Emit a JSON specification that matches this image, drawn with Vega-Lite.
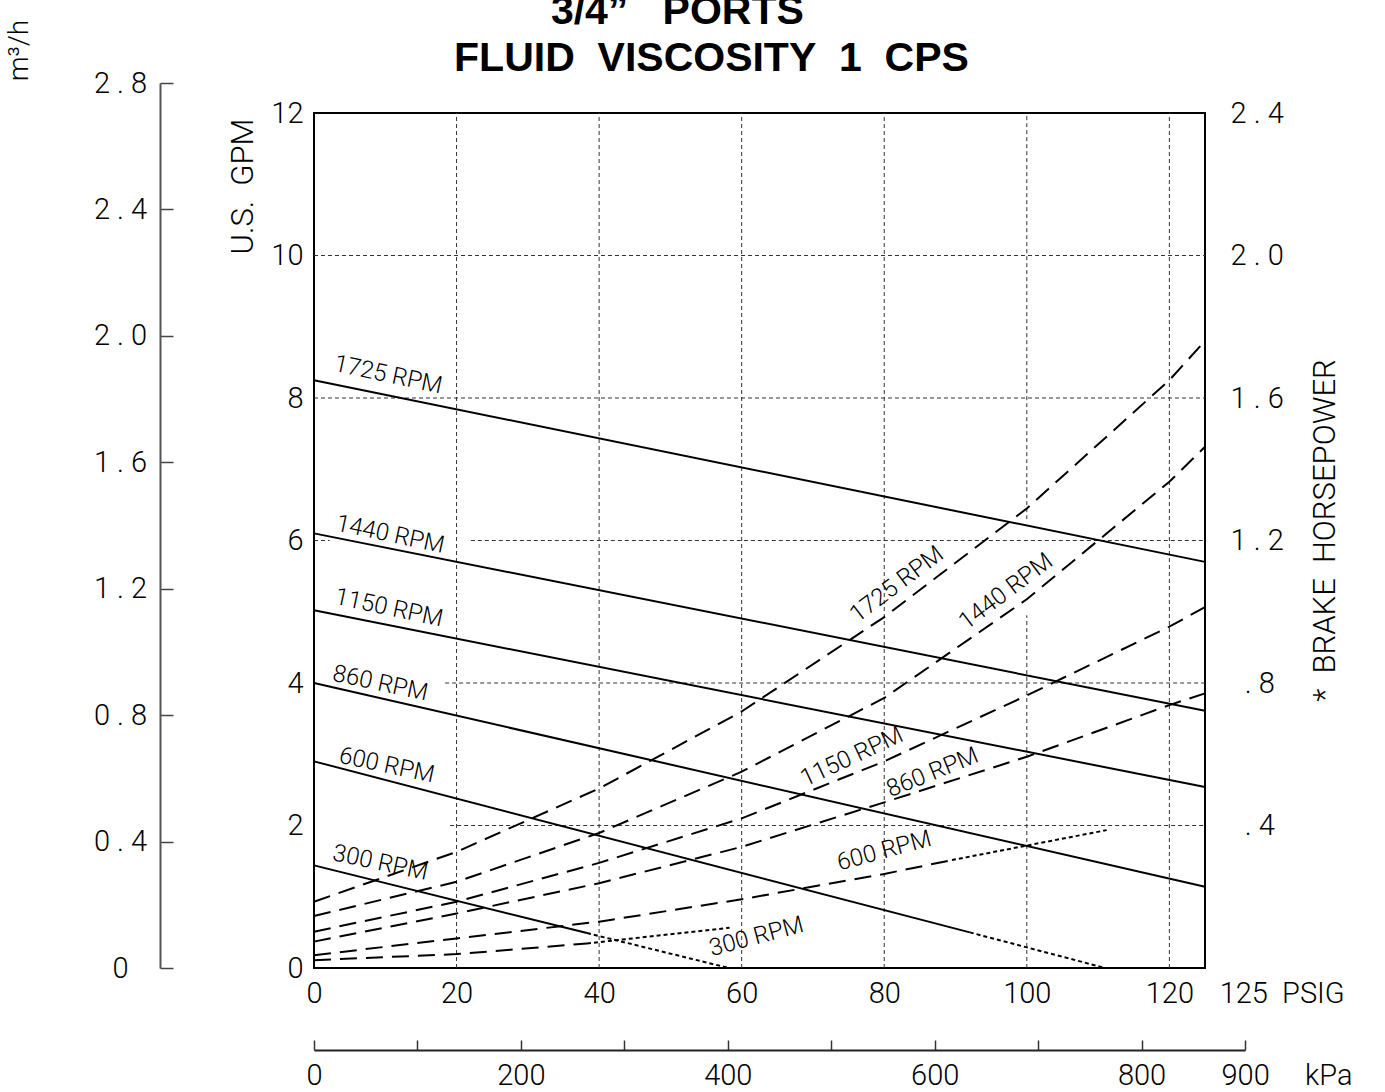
{
  "$schema": "https://vega.github.io/schema/vega-lite/v6.json",
  "width": 891,
  "height": 855,
  "autosize": {"type": "none"},
  "padding": {"left": 314, "top": 113, "right": 180, "bottom": 124},
  "background": "white",
  "title": {
    "text": ["3/4\u201d\u00a0\u00a0\u00a0PORTS\u00a0\u00a0\u00a0\u00a0\u00a0\u00a0\u200d", "FLUID\u00a0\u00a0VISCOSITY\u00a0\u00a01\u00a0\u00a0CPS"],
    "font": "Liberation Sans",
    "fontSize": 41,
    "fontWeight": "bold",
    "color": "black",
    "anchor": "middle",
    "frame": "group",
    "dx": -48,
    "offset": -61,
    "lineHeight": 47
  },
  "config": {
    "view": {"stroke": "#000", "strokeWidth": 2},
    "font": "Roboto",
    "axis": {
      "labelFont": "Roboto",
      "labelFontWeight": 300,
      "labelFontSize": 29,
      "labelColor": "#000",
      "titleFont": "Roboto",
      "titleFontWeight": 300,
      "titleFontSize": 28,
      "titleColor": "#000",
      "grid": false,
      "labelFlush": false,
      "labelOverlap": false,
      "labelBound": false,
      "domainColor": "#444",
      "tickColor": "#444"
    },
    "text": {"font": "Roboto", "fontWeight": 300, "fontSize": 24, "color": "#000"}
  },
  "datasets": {
    "curves": [
      {"rpm": 1725, "measure": "flow", "part": "main", "psi": 0, "value": 8.25},
      {"rpm": 1725, "measure": "flow", "part": "main", "psi": 125, "value": 5.70},
      {"rpm": 1440, "measure": "flow", "part": "main", "psi": 0, "value": 6.10},
      {"rpm": 1440, "measure": "flow", "part": "main", "psi": 125, "value": 3.61},
      {"rpm": 1150, "measure": "flow", "part": "main", "psi": 0, "value": 5.02},
      {"rpm": 1150, "measure": "flow", "part": "main", "psi": 125, "value": 2.54},
      {"rpm": 860, "measure": "flow", "part": "main", "psi": 0, "value": 4.00},
      {"rpm": 860, "measure": "flow", "part": "main", "psi": 125, "value": 1.14},
      {"rpm": 600, "measure": "flow", "part": "main", "psi": 0, "value": 2.90},
      {"rpm": 600, "measure": "flow", "part": "main", "psi": 92, "value": 0.50},
      {"rpm": 300, "measure": "flow", "part": "main", "psi": 0, "value": 1.44},
      {"rpm": 300, "measure": "flow", "part": "main", "psi": 38.3, "value": 0.49},
      {"rpm": 600, "measure": "flow", "part": "ext", "psi": 92, "value": 0.50},
      {"rpm": 600, "measure": "flow", "part": "ext", "psi": 111, "value": 0.0},
      {"rpm": 300, "measure": "flow", "part": "ext", "psi": 38.3, "value": 0.49},
      {"rpm": 300, "measure": "flow", "part": "ext", "psi": 58.2, "value": 0.0},
      {"rpm": 1725, "measure": "bhp", "part": "main", "psi": 0, "value": 0.186},
      {"rpm": 1725, "measure": "bhp", "part": "main", "psi": 20, "value": 0.326},
      {"rpm": 1725, "measure": "bhp", "part": "main", "psi": 40, "value": 0.504},
      {"rpm": 1725, "measure": "bhp", "part": "main", "psi": 60, "value": 0.72},
      {"rpm": 1725, "measure": "bhp", "part": "main", "psi": 80, "value": 0.985},
      {"rpm": 1725, "measure": "bhp", "part": "main", "psi": 100, "value": 1.29},
      {"rpm": 1725, "measure": "bhp", "part": "main", "psi": 120, "value": 1.65},
      {"rpm": 1725, "measure": "bhp", "part": "main", "psi": 125, "value": 1.76},
      {"rpm": 1440, "measure": "bhp", "part": "main", "psi": 0, "value": 0.146},
      {"rpm": 1440, "measure": "bhp", "part": "main", "psi": 20, "value": 0.242},
      {"rpm": 1440, "measure": "bhp", "part": "main", "psi": 40, "value": 0.379},
      {"rpm": 1440, "measure": "bhp", "part": "main", "psi": 60, "value": 0.551},
      {"rpm": 1440, "measure": "bhp", "part": "main", "psi": 80, "value": 0.758},
      {"rpm": 1440, "measure": "bhp", "part": "main", "psi": 100, "value": 1.035},
      {"rpm": 1440, "measure": "bhp", "part": "main", "psi": 120, "value": 1.365},
      {"rpm": 1440, "measure": "bhp", "part": "main", "psi": 125, "value": 1.463},
      {"rpm": 1150, "measure": "bhp", "part": "main", "psi": 0, "value": 0.102},
      {"rpm": 1150, "measure": "bhp", "part": "main", "psi": 20, "value": 0.186},
      {"rpm": 1150, "measure": "bhp", "part": "main", "psi": 40, "value": 0.295},
      {"rpm": 1150, "measure": "bhp", "part": "main", "psi": 60, "value": 0.42},
      {"rpm": 1150, "measure": "bhp", "part": "main", "psi": 80, "value": 0.58},
      {"rpm": 1150, "measure": "bhp", "part": "main", "psi": 100, "value": 0.765},
      {"rpm": 1150, "measure": "bhp", "part": "main", "psi": 120, "value": 0.958},
      {"rpm": 1150, "measure": "bhp", "part": "main", "psi": 125, "value": 1.013},
      {"rpm": 860, "measure": "bhp", "part": "main", "psi": 0, "value": 0.074},
      {"rpm": 860, "measure": "bhp", "part": "main", "psi": 20, "value": 0.153},
      {"rpm": 860, "measure": "bhp", "part": "main", "psi": 40, "value": 0.238},
      {"rpm": 860, "measure": "bhp", "part": "main", "psi": 60, "value": 0.34},
      {"rpm": 860, "measure": "bhp", "part": "main", "psi": 80, "value": 0.465},
      {"rpm": 860, "measure": "bhp", "part": "main", "psi": 100, "value": 0.593},
      {"rpm": 860, "measure": "bhp", "part": "main", "psi": 120, "value": 0.738},
      {"rpm": 860, "measure": "bhp", "part": "main", "psi": 125, "value": 0.771},
      {"rpm": 600, "measure": "bhp", "part": "main", "psi": 0, "value": 0.036},
      {"rpm": 600, "measure": "bhp", "part": "main", "psi": 20, "value": 0.083},
      {"rpm": 600, "measure": "bhp", "part": "main", "psi": 40, "value": 0.13},
      {"rpm": 600, "measure": "bhp", "part": "main", "psi": 60, "value": 0.193},
      {"rpm": 600, "measure": "bhp", "part": "main", "psi": 80, "value": 0.264},
      {"rpm": 600, "measure": "bhp", "part": "main", "psi": 89.5, "value": 0.303},
      {"rpm": 300, "measure": "bhp", "part": "main", "psi": 0, "value": 0.022},
      {"rpm": 300, "measure": "bhp", "part": "main", "psi": 20, "value": 0.039},
      {"rpm": 300, "measure": "bhp", "part": "main", "psi": 38.3, "value": 0.069},
      {"rpm": 600, "measure": "bhp", "part": "ext", "psi": 89.5, "value": 0.303},
      {"rpm": 600, "measure": "bhp", "part": "ext", "psi": 111.2, "value": 0.387},
      {"rpm": 300, "measure": "bhp", "part": "ext", "psi": 38.3, "value": 0.069},
      {"rpm": 300, "measure": "bhp", "part": "ext", "psi": 58.3, "value": 0.113}
    ],
    "labels": [
      {"text": "1725 RPM", "rpm": 1725, "measure": "flow", "psi": 10.4, "value": 8.32},
      {"text": "1440 RPM", "rpm": 1440, "measure": "flow", "psi": 10.7, "value": 6.08},
      {"text": "1150 RPM", "rpm": 1150, "measure": "flow", "psi": 10.5, "value": 5.05},
      {"text": "860 RPM", "rpm": 860, "measure": "flow", "psi": 9.3, "value": 3.99},
      {"text": "600 RPM", "rpm": 600, "measure": "flow", "psi": 10.2, "value": 2.84},
      {"text": "300 RPM", "rpm": 300, "measure": "flow", "psi": 9.3, "value": 1.47},
      {"text": "1725 RPM", "rpm": 1725, "measure": "bhp", "psi": 81.8, "value": 1.076},
      {"text": "1440 RPM", "rpm": 1440, "measure": "bhp", "psi": 97.1, "value": 1.056},
      {"text": "1150 RPM", "rpm": 1150, "measure": "bhp", "psi": 75.5, "value": 0.592},
      {"text": "860 RPM", "rpm": 860, "measure": "bhp", "psi": 86.8, "value": 0.548},
      {"text": "600 RPM", "rpm": 600, "measure": "bhp", "psi": 80.0, "value": 0.328},
      {"text": "300 RPM", "rpm": 300, "measure": "bhp", "psi": 62.1, "value": 0.087}
    ],
    "grid": [
      {"dir": "v", "at": 20, "from": 0, "to": 12},
      {"dir": "v", "at": 40, "from": 0, "to": 12},
      {"dir": "v", "at": 60, "from": 0, "to": 12},
      {"dir": "v", "at": 80, "from": 0, "to": 12},
      {"dir": "v", "at": 100, "from": 0, "to": 4.95},
      {"dir": "v", "at": 100, "from": 6.3, "to": 12},
      {"dir": "v", "at": 120, "from": 0, "to": 12},
      {"dir": "h", "at": 10, "from": 0, "to": 125},
      {"dir": "h", "at": 8, "from": 0, "to": 125},
      {"dir": "h", "at": 6, "from": 0, "to": 2.2},
      {"dir": "h", "at": 6, "from": 22.0, "to": 125},
      {"dir": "h", "at": 4, "from": 18.4, "to": 125},
      {"dir": "h", "at": 2, "from": 19.1, "to": 125}
    ]
  },
  "layer": [
    {
      "data": {"name": "grid"},
      "transform": [{"filter": "datum.dir == 'v'"}],
      "mark": {"type": "rule", "color": "#333", "strokeWidth": 1, "strokeDash": [4, 3]},
      "encoding": {
        "x": {"field": "at", "type": "quantitative", "scale": {"domain": [0, 125], "nice": false, "zero": false}, "axis": null},
        "y": {"field": "from", "type": "quantitative", "scale": {"domain": [0, 12], "nice": false, "zero": false}, "axis": null},
        "y2": {"field": "to"}
      }
    },
    {
      "data": {"name": "grid"},
      "transform": [{"filter": "datum.dir == 'h'"}],
      "mark": {"type": "rule", "color": "#333", "strokeWidth": 1, "strokeDash": [4, 3]},
      "encoding": {
        "x": {"field": "from", "type": "quantitative", "scale": {"domain": [0, 125], "nice": false, "zero": false}, "axis": null},
        "x2": {"field": "to"},
        "y": {"field": "at", "type": "quantitative", "scale": {"domain": [0, 12], "nice": false, "zero": false}, "axis": null}
      }
    },
    {
      "data": {"name": "curves"},
      "mark": {"type": "point", "opacity": 0},
      "encoding": {
        "x": {
          "datum": 0, "type": "quantitative",
          "scale": {"domain": [0, 900], "range": [0, 931], "nice": false, "zero": false},
          "axis": {
            "orient": "bottom", "offset": 82, "title": null,
            "values": [0, 100, 200, 300, 400, 500, 600, 700, 800, 900],
            "ticks": true, "tickSize": -10, "tickWidth": 1.5, "tickColor": "#333",
            "domain": true, "domainWidth": 2, "domainColor": "#222",
            "labelPadding": 21,
            "labelExpr": "datum.value == 900 ? '900\u00a0\u00a0\u00a0\u00a0\u00a0kPa' : (datum.value % 200 == 0 ? format(datum.value, 'd') : '')",
            "labelAlign": {"condition": {"test": "datum.value == 900", "value": "left"}, "value": "center"},
            "labelOffset": {"condition": {"test": "datum.value == 900", "value": -24}, "value": 0}
          }
        },
        "y": {
          "datum": 0, "type": "quantitative",
          "scale": {"domain": [0, 2.8], "range": [855, -30], "nice": false, "zero": false},
          "axis": {
            "orient": "left", "offset": 154,
            "values": [0, 0.4, 0.8, 1.2, 1.6, 2.0, 2.4, 2.8],
            "ticks": true, "tickSize": -13, "tickWidth": 1.5, "tickColor": "#444",
            "domain": true, "domainWidth": 2, "domainColor": "#555",
            "labelPadding": 53, "labelAlign": "center",
            "labelExpr": "datum.value == 0 ? '0' : replace(format(datum.value, '.1f'), '.', ' . ')",
            "title": "m\u00b3/h", "titleAngle": 270, "titleAlign": "center", "titleBaseline": "middle",
            "titleX": -141, "titleY": -63
          }
        }
      }
    },
    {
      "data": {"name": "curves"},
      "transform": [{"filter": "datum.measure == 'flow' && datum.part == 'main'"}],
      "mark": {"type": "line", "color": "#000", "strokeWidth": 2},
      "encoding": {
        "x": {
          "field": "psi", "type": "quantitative",
          "scale": {"domain": [0, 125], "nice": false, "zero": false},
          "axis": {
            "orient": "bottom", "title": null,
            "values": [0, 20, 40, 60, 80, 100, 120, 125],
            "ticks": false, "domain": false, "labelPadding": 11,
            "labelExpr": "datum.value == 125 ? '\u200d\u00a0\u00a0125\u00a0\u00a0PSIG' : datum.label",
            "labelAlign": {"condition": {"test": "datum.value == 125", "value": "left"}, "value": "center"}
          }
        },
        "y": {
          "field": "value", "type": "quantitative",
          "scale": {"domain": [0, 12], "nice": false, "zero": false},
          "axis": {
            "orient": "left",
            "values": [0, 2, 4, 6, 8, 10, 12],
            "ticks": false, "domain": false, "labelPadding": 11,
            "title": "U.S.\u00a0\u00a0GPM", "titleAngle": 270, "titleAlign": "center", "titleBaseline": "middle",
            "titleX": -71, "titleY": 73, "titleFontSize": 31
          }
        },
        "detail": {"field": "rpm", "type": "nominal"}
      }
    },
    {
      "data": {"name": "curves"},
      "transform": [{"filter": "datum.measure == 'bhp' && datum.part == 'main'"}],
      "mark": {"type": "line", "color": "#000", "strokeWidth": 2, "strokeDash": [17, 9]},
      "encoding": {
        "x": {"field": "psi", "type": "quantitative", "scale": {"domain": [0, 125], "nice": false, "zero": false}, "axis": null},
        "y": {
          "field": "value", "type": "quantitative",
          "scale": {"domain": [0, 2.4], "nice": false, "zero": false},
          "axis": {
            "orient": "right",
            "values": [0.4, 0.8, 1.2, 1.6, 2.0, 2.4],
            "ticks": false, "domain": false, "labelPadding": 25, "labelAlign": "left",
            "labelExpr": "datum.value >= 1 ? replace(format(datum.value, '.1f'), '.', ' . ') : '\u200d\u00a0\u00a0. ' + substring(format(datum.value, '.1f'), 2)",
            "title": "*\u00a0\u00a0BRAKE\u00a0\u00a0HORSEPOWER", "titleAngle": 270, "titleAlign": "center", "titleBaseline": "middle",
            "titleX": 120, "titleY": 417, "titleFontSize": 31
          }
        },
        "detail": {"field": "rpm", "type": "nominal"}
      }
    },
    {
      "data": {"name": "curves"},
      "transform": [{"filter": "datum.measure == 'flow' && datum.part == 'ext'"}],
      "mark": {"type": "line", "color": "#000", "strokeWidth": 2, "strokeDash": [4, 3]},
      "encoding": {
        "x": {"field": "psi", "type": "quantitative", "scale": {"domain": [0, 125], "nice": false, "zero": false}, "axis": null},
        "y": {"field": "value", "type": "quantitative", "scale": {"domain": [0, 12], "nice": false, "zero": false}, "axis": null},
        "detail": {"field": "rpm", "type": "nominal"}
      }
    },
    {
      "data": {"name": "curves"},
      "transform": [{"filter": "datum.measure == 'bhp' && datum.part == 'ext'"}],
      "mark": {"type": "line", "color": "#000", "strokeWidth": 2, "strokeDash": [4, 3]},
      "encoding": {
        "x": {"field": "psi", "type": "quantitative", "scale": {"domain": [0, 125], "nice": false, "zero": false}, "axis": null},
        "y": {"field": "value", "type": "quantitative", "scale": {"domain": [0, 2.4], "nice": false, "zero": false}, "axis": null},
        "detail": {"field": "rpm", "type": "nominal"}
      }
    },
    {
      "data": {"name": "labels"},
      "transform": [{"filter": "datum.measure == 'flow'"}],
      "mark": {"type": "text", "angle": 12, "align": "center", "baseline": "middle", "fontSize": 24},
      "encoding": {
        "x": {"field": "psi", "type": "quantitative", "scale": {"domain": [0, 125], "nice": false, "zero": false}, "axis": null},
        "y": {"field": "value", "type": "quantitative", "scale": {"domain": [0, 12], "nice": false, "zero": false}, "axis": null},
        "text": {"field": "text"}
      }
    },
    {
      "data": {"name": "labels"},
      "transform": [{"filter": "datum.measure == 'bhp' && (datum.rpm == 1725 || datum.rpm == 1440)"}],
      "mark": {"type": "text", "angle": 323, "align": "center", "baseline": "middle", "fontSize": 24},
      "encoding": {
        "x": {"field": "psi", "type": "quantitative", "scale": {"domain": [0, 125], "nice": false, "zero": false}, "axis": null},
        "y": {"field": "value", "type": "quantitative", "scale": {"domain": [0, 2.4], "nice": false, "zero": false}, "axis": null},
        "text": {"field": "text"}
      }
    },
    {
      "data": {"name": "labels"},
      "transform": [{"filter": "datum.measure == 'bhp' && datum.rpm == 1150"}],
      "mark": {"type": "text", "angle": 335, "align": "center", "baseline": "middle", "fontSize": 24},
      "encoding": {
        "x": {"field": "psi", "type": "quantitative", "scale": {"domain": [0, 125], "nice": false, "zero": false}, "axis": null},
        "y": {"field": "value", "type": "quantitative", "scale": {"domain": [0, 2.4], "nice": false, "zero": false}, "axis": null},
        "text": {"field": "text"}
      }
    },
    {
      "data": {"name": "labels"},
      "transform": [{"filter": "datum.measure == 'bhp' && datum.rpm == 860"}],
      "mark": {"type": "text", "angle": 338, "align": "center", "baseline": "middle", "fontSize": 24},
      "encoding": {
        "x": {"field": "psi", "type": "quantitative", "scale": {"domain": [0, 125], "nice": false, "zero": false}, "axis": null},
        "y": {"field": "value", "type": "quantitative", "scale": {"domain": [0, 2.4], "nice": false, "zero": false}, "axis": null},
        "text": {"field": "text"}
      }
    },
    {
      "data": {"name": "labels"},
      "transform": [{"filter": "datum.measure == 'bhp' && (datum.rpm == 600 || datum.rpm == 300)"}],
      "mark": {"type": "text", "angle": 345, "align": "center", "baseline": "middle", "fontSize": 24},
      "encoding": {
        "x": {"field": "psi", "type": "quantitative", "scale": {"domain": [0, 125], "nice": false, "zero": false}, "axis": null},
        "y": {"field": "value", "type": "quantitative", "scale": {"domain": [0, 2.4], "nice": false, "zero": false}, "axis": null},
        "text": {"field": "text"}
      }
    }
  ],
  "resolve": {"scale": {"x": "independent", "y": "independent"}}
}
